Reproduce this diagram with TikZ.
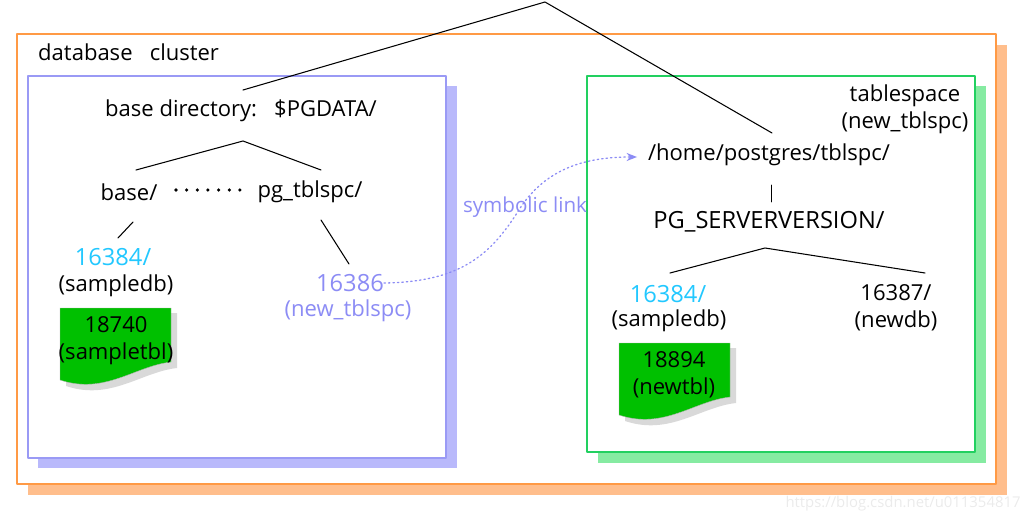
\documentclass[tikz,border=0pt]{standalone}
\usepackage{fontspec}
\setmainfont{Open Sans}
\usetikzlibrary{arrows.meta}
\definecolor{clusterline}{HTML}{FF9A45}
\definecolor{clustershade}{HTML}{FFBE8C}
\definecolor{baseline}{HTML}{9A9AF5}
\definecolor{baseshade}{HTML}{B9B9FB}
\definecolor{spaceline}{HTML}{22D060}
\definecolor{spaceshade}{HTML}{86EBA2}
\definecolor{linkblue}{HTML}{8C8CF5}
\definecolor{dbcyan}{HTML}{22C8FF}
\definecolor{tblgreen}{HTML}{00C000}
\tikzset{
  lbl/.style={inner sep=0pt, align=center, font=\fontsize{18.8}{23}\selectfont},
  bigger/.style={font=\fontsize{20.2}{24}\selectfont},
  branch/.style={line width=0.9pt, black},
  tblsheet/.style={fill=tblgreen, draw=black!30, line width=0.3pt},
  tblshade/.style={fill=black!15, draw=none},
}
\begin{document}
\begin{tikzpicture}[line cap=round, line join=round, >=Stealth, x=0.3mm, y=-0.3mm]
  \useasboundingbox (0,0) rectangle (1030,522);
  % Cluster box with its offset shade.
  \fill[clustershade] (28,45) rectangle (1007,495);
  \draw[fill=white, draw=clusterline, line width=1pt] (17,34) rectangle (996,484);
  % Base directory box and tablespace box.
  \fill[baseshade] (38,86) rectangle (457,468);
  \draw[fill=white, draw=baseline, line width=1pt] (28,76) rectangle (446,458);
  \fill[spaceshade] (598,86) rectangle (986,463);
  \draw[fill=white, draw=spaceline, line width=1pt] (587,76) rectangle (975,452);
  % Green table sheets.
  \foreach \dx/\dy in {0/0,559/35} {
    \fill[tblshade, shift={(\dx,\dy)}] (66,313) -- (177,313) -- (177,368) .. controls (141,372) and (111,401) .. (66,386) -- cycle;
    \draw[tblsheet, shift={(\dx,\dy)}] (60,308) -- (171,308) -- (171,362) .. controls (135,366) and (105,395) .. (60,380) -- cycle;
  }
  % Labels, left side.
  \node[lbl, anchor=west] (cluster) at (38,52) {database\ \ \ cluster};
  \node[lbl] (basedir) at (241,111) {base directory:\ \ \ \$PGDATA/};
  \node[lbl] (base) at (129,192) {base/};
  \node[lbl] (tblspc) at (310,192) {pg\_tblspc/};
  \node[lbl, bigger, text=dbcyan] (db) at (113,257) {16384/};
  \node[lbl] (dbname) at (116,286) {(sampledb)};
  \node[lbl] (tbl) at (116,341) {18740\\(sampletbl)};
  \node[lbl, bigger, text=linkblue] (link) at (350,283) {16386};
  \node[lbl, text=linkblue] (linkname) at (348,311) {(new\_tblspc)};
  \node[lbl, text=linkblue, font=\fontsize{17.6}{21}\selectfont] (symlink) at (525,207) {symbolic link};
  % Labels, right side.
  \node[lbl] (space) at (905,109) {tablespace\\(new\_tblspc)};
  \node[lbl] (home) at (769,155) {/home/postgres/tblspc/};
  \node[lbl, bigger] (version) at (769,222) {PG\_SERVERVERSION/};
  \node[lbl, bigger, text=dbcyan] (newdb) at (668,294) {16384/};
  \node[lbl] (newdbname) at (669,321) {(sampledb)};
  \node[lbl] (other) at (896,308) {16387/\\(newdb)};
  \node[lbl] (newtbl) at (674,375) {18894\\(newtbl)};
  % Tree lines.
  \coordinate (top) at (545,2);
  \coordinate (topl) at (243,90);
  \coordinate (topr) at (772,133);
  \draw[branch] (topl) -- (top) -- (topr);
  \coordinate (peak) at (243,141);
  \coordinate (peakl) at (136,170);
  \coordinate (peakr) at (321,170);
  \draw[branch] (peakl) -- (peak) -- (peakr);
  \coordinate (dotsl) at (176,190);
  \coordinate (dotsr) at (240,190);
  \draw[black, line width=3pt, line cap=round, dash pattern=on 0pt off 9.1pt] (dotsl) -- (dotsr);
  \draw[branch] (133,222) -- (118,238);
  \draw[branch] (321,220) -- (349,264);
  \draw[line width=0.7pt] (771.5,185) -- (771.5,202);
  \coordinate (peakb) at (765,248);
  \coordinate (peakbl) at (670,273);
  \coordinate (peakbr) at (925,273);
  \draw[branch] (peakbl) -- (peakb) -- (peakbr);
  % Symbolic link.
  \coordinate (linkend) at (637,157);
  \draw[linkblue, line width=1.1pt, dash pattern=on 1.2pt off 2.6pt, -{Stealth[length=9pt, width=7pt, fill=linkblue, line width=0pt]}] (link.east) .. controls (460,282) and (490,255) .. (517,213) .. controls (540,175) and (575,157) .. (linkend);
  % Watermark.
  \node[lbl, text=black!8, font=\fontsize{12.7}{15}\selectfont] (mark) at (903,504) {https://blog.csdn.net/u011354817};
\end{tikzpicture}
\end{document}
